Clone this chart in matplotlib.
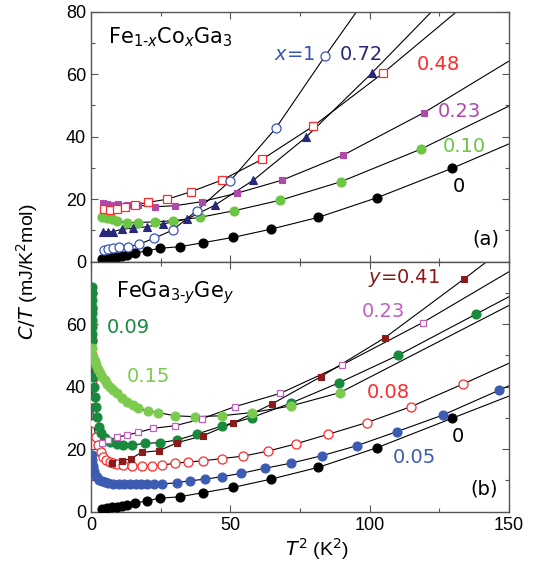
import matplotlib
matplotlib.use("Agg")
import matplotlib.pyplot as plt
from matplotlib.ticker import MultipleLocator

plt.rcParams['font.family'] = ['Liberation Sans', 'DejaVu Sans']
plt.rcParams['mathtext.fontset'] = 'custom'
plt.rcParams['mathtext.rm'] = 'DejaVu Sans'
plt.rcParams['mathtext.it'] = 'DejaVu Sans:italic'

# ---------------- Panel (a): Fe1-xCoxGa3 ----------------
a0_T2 = [3.8, 5.6, 7.4, 9.2, 11.0, 12.8, 15.8, 20.0, 24.8, 31.9, 40.3, 51.1, 64.5, 81.6, 102.7, 129.6]
a0_CT = [0.8, 1.1, 1.4, 1.6, 1.8, 2.1, 2.7, 3.5, 4.3, 4.8, 6.1, 7.8, 10.4, 14.2, 20.5, 29.9]
a0_end = (150, 37.7)

a010_T2 = [3.8, 5.6, 7.4, 9.2, 12.8, 17.0, 23.0, 29.5, 39.1, 51.3, 68.0, 89.7, 118.3]
a010_CT = [14.2, 13.9, 13.6, 13.1, 12.5, 12.5, 12.8, 13.1, 14.2, 16.3, 19.7, 25.6, 36.0]
a010_end = (150, 49.8)

a023_T2 = [4.2, 5.6, 7.4, 9.8, 12.8, 17.0, 23.0, 30.1, 39.7, 52.3, 68.6, 90.5, 119.5]
a023_CT = [18.9, 18.5, 18.1, 18.5, 18.1, 18.1, 17.6, 17.9, 19.2, 21.9, 26.1, 34.1, 47.7]
a023_end = (150, 64.2)

a048_T2 = [4.7, 6.8, 9.2, 12.2, 15.8, 20.6, 27.4, 35.9, 46.9, 61.5, 79.8, 104.7]
a048_CT = [16.8, 16.5, 16.8, 17.4, 18.2, 19.0, 20.0, 22.4, 26.1, 32.8, 43.4, 60.3]
a048_end = (131.2, 80)

a072_T2 = [4.2, 6.2, 8.0, 11.0, 15.2, 20.0, 25.9, 34.3, 44.5, 58.3, 77.1, 100.7]
a072_CT = [9.6, 9.6, 9.6, 10.4, 10.7, 11.2, 12.1, 13.6, 18.1, 26.1, 39.8, 60.3]
a072_end = (122.2, 80)

a1_T2 = [4.7, 6.2, 8.0, 10.2, 13.4, 17.3, 22.6, 29.3, 37.9, 49.9, 66.3, 84.0]
a1_CT = [3.7, 4.0, 4.3, 4.6, 4.8, 5.6, 7.5, 10.1, 16.3, 25.8, 42.7, 65.8]
a1_end = (95.3, 80)

# ---------------- Panel (b): FeGa3-yGey ----------------
b0_T2 = a0_T2
b0_CT = a0_CT
b0_end = (150, 37.0)

b005_T2 = [0.3, 0.5, 0.7, 1.0, 1.5, 2.0, 3.0, 4.0, 5.0, 6.0, 8.0, 10.0, 12.0, 14.0, 16.0, 18.0,
           20.0, 22.5, 25.4, 30.7, 35.5, 40.9, 46.9, 54.0, 62.4, 71.6, 82.8, 95.3, 109.7, 126.2, 146.5]
b005_CT = [18.0, 16.5, 14.5, 13.0, 11.8, 11.0, 10.2, 9.7, 9.4, 9.2, 9.0, 8.9, 8.8, 8.8, 8.8, 8.8,
           8.8, 8.8, 8.8, 9.3, 9.9, 10.4, 11.2, 12.3, 13.9, 15.5, 17.9, 21.1, 25.6, 30.9, 38.9]
b005_end = (150, 40.3)

b008_T2 = [0.3, 0.3, 0.3, 0.3, 0.3, 0.4, 0.5, 0.9, 1.7, 2.6, 3.5, 4.4, 5.5, 6.8, 8.0, 9.2, 11.6, 14.6,
           18.2, 21.8, 25.4, 30.1, 34.9, 40.3, 46.9, 54.7, 63.6, 73.5, 85.2, 98.9, 114.8, 133.6]
b008_CT = [70.0, 65.0, 60.0, 55.0, 50.0, 42.0, 36.0, 28.5, 24.0, 21.3, 19.0, 17.6, 16.6, 16.0, 15.6, 15.3,
           14.9, 14.6, 14.6, 14.6, 14.9, 15.5, 15.9, 16.3, 17.0, 17.8, 19.4, 21.7, 24.8, 28.5, 33.6, 40.9]
b008_end = (150, 47.5)

b009_T2 = [0.3, 0.3, 0.3, 0.3, 0.3, 0.3, 0.3, 0.3, 0.3, 0.6, 0.8, 1.0, 1.4, 1.7, 2.2, 2.9, 3.7, 4.9,
           6.8, 9.2, 11.6, 14.6, 19.4, 24.8, 30.7, 37.9, 46.9, 57.6, 71.6, 89.1, 110.3, 138.1]
b009_CT = [71.8, 69.9, 67.7, 65.6, 63.5, 61.3, 59.0, 56.9, 54.7, 46.9, 43.2, 40.0, 36.8, 33.6, 30.4, 27.2, 25.1, 23.5,
           22.2, 21.6, 21.3, 21.3, 21.9, 22.1, 22.9, 24.8, 27.4, 30.1, 34.7, 41.3, 50.1, 63.2]
b009_end = (150, 68.8)

b015_T2 = [0.3, 0.8, 1.4, 1.9, 2.5, 3.1, 4.0, 4.9, 5.8, 6.8, 8.0, 9.2, 11.0, 12.8, 15.0, 17.0,
           20.5, 24.2, 30.1, 37.3, 46.9, 57.6, 71.6, 89.3]
b015_CT = [52.3, 49.6, 48.2, 46.9, 45.7, 44.5, 43.2, 42.1, 41.0, 40.0, 38.9, 37.9, 36.5, 35.2, 34.0, 33.1,
           32.3, 31.7, 30.7, 30.4, 30.7, 31.7, 33.8, 38.1]
b015_end = (150, 66.0)

b023_T2 = [3.8, 6.2, 9.2, 12.8, 17.0, 22.4, 30.1, 39.7, 51.6, 68.0, 89.9, 119.0]
b023_CT = [22.1, 22.9, 23.8, 24.5, 25.4, 26.7, 27.5, 29.7, 33.6, 37.9, 46.9, 60.5]
b023_end = (150, 76.8)

b041_T2 = [7.4, 11.0, 14.2, 18.2, 24.4, 31.0, 40.1, 50.8, 64.8, 82.5, 105.5, 133.9]
b041_CT = [15.5, 16.3, 16.9, 19.0, 19.5, 22.1, 24.3, 28.3, 34.4, 43.2, 55.7, 74.5]
b041_end = (142, 80)

# colours
c_black = '#000000'
c_green_l = '#6cc644'
c_mag = '#b04aa8'
c_red = '#ff2a2a'
c_navy = '#27287a'
c_blue_o = '#3a55b8'
c_dgreen = '#178a3c'
c_lgreen = '#7ccb4f'
c_mag2 = '#c060c0'
c_dred = '#8b1a1a'
c_blue = '#3c5cb4'

fig = plt.figure(figsize=(5.33, 5.66), dpi=100)
L, R = 91 / 533, 509 / 533
ax1 = fig.add_axes([L, 1 - 261.7 / 566, R - L, 250 / 566])
ax2 = fig.add_axes([L, 1 - 511.7 / 566, R - L, 250 / 566])


def series(ax, xs, ys, end, marker, color, filled, ms, z=3):
    lx = list(xs) + [end[0]]
    ly = list(ys) + [end[1]]
    ax.plot(lx, ly, '-', color='k', lw=0.8, zorder=2)
    if filled:
        ax.plot(xs, ys, linestyle='none', marker=marker, ms=ms, mfc=color, mec=color, mew=0.8, zorder=z)
    else:
        ax.plot(xs, ys, linestyle='none', marker=marker, ms=ms, mfc='white', mec=color, mew=0.9, zorder=z)


# panel a
series(ax1, a0_T2, a0_CT, a0_end, 'o', c_black, True, 6.5)
series(ax1, a010_T2, a010_CT, a010_end, 'o', c_green_l, True, 6.5)
series(ax1, a023_T2, a023_CT, a023_end, 's', c_mag, True, 5)
series(ax1, a048_T2, a048_CT, a048_end, 's', c_red, False, 5.5)
series(ax1, a072_T2, a072_CT, a072_end, '^', c_navy, True, 5.5)
series(ax1, a1_T2, a1_CT, a1_end, 'o', c_blue_o, False, 6.5)

# panel b
series(ax2, b0_T2, b0_CT, b0_end, 'o', c_black, True, 6.5)
series(ax2, b005_T2, b005_CT, b005_end, 'o', c_blue, True, 6.5)
series(ax2, b008_T2, b008_CT, b008_end, 'o', c_red, False, 6.5)
series(ax2, b009_T2, b009_CT, b009_end, 'o', c_dgreen, True, 6.5)
series(ax2, b015_T2, b015_CT, b015_end, 'o', c_lgreen, True, 6.5)
series(ax2, b023_T2, b023_CT, b023_end, 's', c_mag2, False, 5)
series(ax2, b041_T2, b041_CT, b041_end, 's', c_dred, True, 5)

for ax in (ax1, ax2):
    ax.set_xlim(0, 150)
    ax.set_ylim(0, 80)
    ax.xaxis.set_major_locator(MultipleLocator(50))
    ax.xaxis.set_minor_locator(MultipleLocator(25))
    ax.yaxis.set_major_locator(MultipleLocator(20))
    ax.yaxis.set_minor_locator(MultipleLocator(10))
    ax.tick_params(which='both', direction='in', top=True, right=True, labelsize=13, color='#555555')
    ax.tick_params(which='major', length=5, width=0.8)
    ax.tick_params(which='minor', length=3, width=0.8)
    for s in ax.spines.values():
        s.set_color('#555555')
        s.set_linewidth(1.0)

ax1.tick_params(labelbottom=False)
ax2.set_yticks([0, 20, 40, 60])
ax2.set_yticks([10, 30, 50, 70], minor=True)

fig.text(317 / 533, 1 - 549 / 566, r'$T^2$ (K$^2$)', fontsize=14, ha='center', va='center')
fig.text(27 / 533, 1 - 272 / 566, r'$C/T$ (mJ/K$^2$mol)', rotation=90, fontsize=14,
         ha='center', va='center')

fs = 14
lab = dict(fontsize=fs, ha='left', va='center', family='DejaVu Sans')
# panel a labels
ax1.text(0.04, 0.9, r'Fe$_{1\text{-}x}$Co$_x$Ga$_3$', transform=ax1.transAxes,
         **dict(lab, fontsize=15))
ax1.text(0.437, 0.83, r'$x$=1', transform=ax1.transAxes, color=c_blue_o, **lab)
ax1.text(0.595, 0.83, '0.72', transform=ax1.transAxes, color=c_navy, **lab)
ax1.text(0.78, 0.79, '0.48', transform=ax1.transAxes, color=c_red, **lab)
ax1.text(0.83, 0.60, '0.23', transform=ax1.transAxes, color=c_mag, **lab)
ax1.text(0.842, 0.46, '0.10', transform=ax1.transAxes, color=c_green_l, **lab)
ax1.text(0.865, 0.30, '0', transform=ax1.transAxes, color=c_black, **lab)
ax1.text(0.912, 0.09, '(a)', transform=ax1.transAxes, **lab)

# panel b labels
ax2.text(0.06, 0.875, r'FeGa$_{3\text{-}y}$Ge$_y$', transform=ax2.transAxes,
         **dict(lab, fontsize=15))
ax2.text(0.038, 0.735, '0.09', transform=ax2.transAxes, color=c_dgreen, **lab)
ax2.text(0.085, 0.54, '0.15', transform=ax2.transAxes, color=c_lgreen, **lab)
ax2.text(0.663, 0.935, r'$y$=0.41', transform=ax2.transAxes, color=c_dred, **lab)
ax2.text(0.648, 0.80, '0.23', transform=ax2.transAxes, color=c_mag2, **lab)
ax2.text(0.66, 0.475, '0.08', transform=ax2.transAxes, color=c_red, **lab)
ax2.text(0.862, 0.30, '0', transform=ax2.transAxes, color=c_black, **lab)
ax2.text(0.722, 0.215, '0.05', transform=ax2.transAxes, color=c_blue, **lab)
ax2.text(0.908, 0.09, '(b)', transform=ax2.transAxes, **lab)

fig.savefig('out.png', dpi=100)
